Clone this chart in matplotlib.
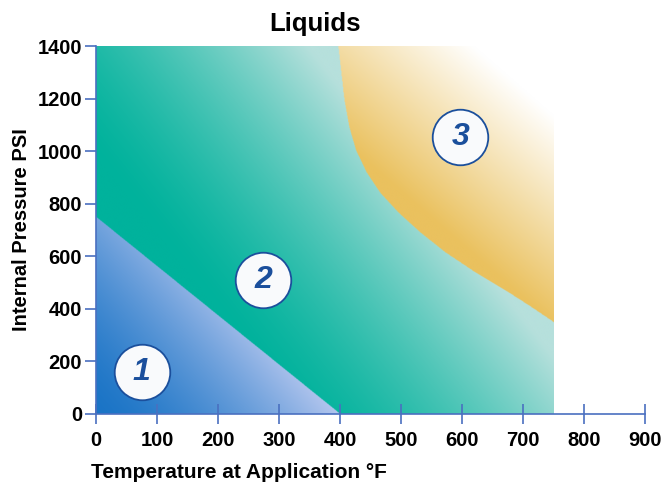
import numpy as np
import matplotlib.pyplot as plt
from matplotlib.colors import to_rgb

plt.rcParams['font.family'] = ['Liberation Sans', 'DejaVu Sans']

# axis ticks
x_ticks = [0, 100, 200, 300, 400, 500, 600, 700, 800, 900]
y_ticks = [0, 200, 400, 600, 800, 1000, 1200, 1400]

# zone 1 border (straight line) and zone 3 border (curve)
zone1_x = [0, 400]
zone1_y = [750, 0]
zone3_x = [397, 402, 407, 415, 426, 443, 466, 495, 531, 572, 621, 670, 711, 750]
zone3_y = [1400, 1297, 1195, 1092, 1004, 921, 841, 768, 692, 616, 540, 472, 411, 350]
zone_max_x = 750

# zone labels
zone_names = ['1', '2', '3']
zone_lx = [75, 274, 597]
zone_ly = [160, 510, 1054]

axis_blue = '#4a70c0'
label_blue = '#1b4f9c'


def blend(c0, c1, t):
    c0 = np.array(to_rgb(c0))
    c1 = np.array(to_rgb(c1))
    t = np.clip(t, 0, 1)[..., None]
    return c0 * (1 - t) + c1 * t


# shaded background image
nx, ny = 750, 1000
gx = np.linspace(0, zone_max_x, nx)
gy = np.linspace(0, 1400, ny)
X, Y = np.meshgrid(gx, gy)

img = np.ones((ny, nx, 4))

# zone 2 (teal)
s = X / 750 + Y / 2200
t2 = np.clip((s - 0.45) / 0.65, 0, 1) ** 1.4
rgb = blend('#00b29c', '#b6e0dc', t2)

# zone 1 (blue)
in1 = X / zone1_x[1] + Y / zone1_y[0] <= 1
t1 = np.clip((X / 400 + Y / 750) * 0.7 + (X / 400) * 0.3, 0, 1) ** 1.5
rgb1 = blend('#1a74c6', '#b4c6ee', t1)
rgb[in1] = rgb1[in1]

# zone 3 (gold fading to white)
cy = np.interp(X, zone3_x, zone3_y)
in3 = (X >= zone3_x[0]) & (Y >= cy)
w = (750 - X) / 350 * 0.4 + (1400 - Y) / 1060 * 0.6
t3 = (w - 0.15) / 0.45
rgb3 = blend('#ffffff', '#eac15e', t3)
rgb[in3] = rgb3[in3]

img[..., :3] = rgb

fig = plt.figure(figsize=(6.63, 4.87), dpi=100)
ax = fig.add_axes([0.1448, 0.1499, 0.8281, 0.7556])

ax.imshow(img, extent=[0, zone_max_x, 0, 1400], origin='lower', aspect='auto',
          interpolation='bilinear', zorder=0)

for name, lx, ly in zip(zone_names, zone_lx, zone_ly):
    ax.plot(lx, ly, 'o', markersize=40, markerfacecolor='#f9fafc',
            markeredgecolor=label_blue, markeredgewidth=1.3, zorder=3)
    ax.text(lx, ly, name, ha='center', va='center', fontsize=23,
            fontweight='bold', fontstyle='italic', color=label_blue, zorder=4)

ax.set_xlim(0, 900)
ax.set_ylim(0, 1400)
ax.set_xticks(x_ticks)
ax.set_yticks(y_ticks)

for side in ['top', 'right']:
    ax.spines[side].set_visible(False)
for side in ['left', 'bottom']:
    ax.spines[side].set_color(axis_blue)
    ax.spines[side].set_linewidth(1.2)
    ax.spines[side].set_zorder(5)

ax.tick_params(axis='x', direction='inout', length=15, width=1.2,
               color=axis_blue, pad=5, labelsize=14.5)
ax.tick_params(axis='y', direction='out', length=8, width=1.2,
               color=axis_blue, pad=2, labelsize=14.5)
for lab in ax.get_xticklabels() + ax.get_yticklabels():
    lab.set_fontweight('bold')

ax.set_xlabel('Temperature at Application °F', loc='left', fontsize=15,
              fontweight='bold')
ax.xaxis.set_label_coords(-0.009, -0.133)
ax.set_ylabel('Internal Pressure PSI', fontsize=14.5, fontweight='bold')
ax.yaxis.set_label_coords(-0.118, 0.5)

fig.text(0.475, 0.951, 'Liquids', ha='center', va='center', fontsize=18.5,
         fontweight='bold')

fig.savefig('out.png', dpi=100)
